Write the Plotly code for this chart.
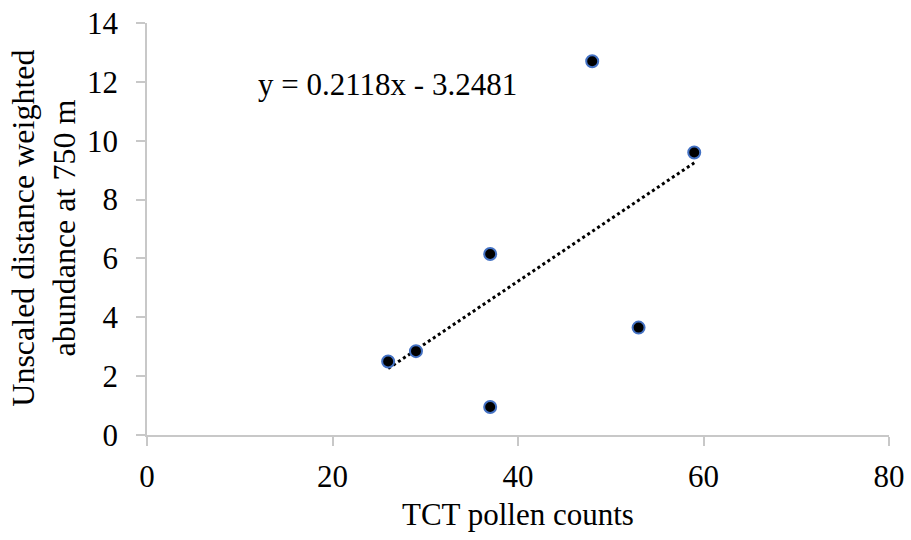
import plotly.graph_objects as go
import numpy as np

tct_counts = [26, 29, 37, 37, 48, 53, 59]
abundance = [2.5, 2.85, 6.15, 0.95, 12.7, 3.65, 9.6]
slope = 0.2118
intercept = -3.2481
eq_label = "y = 0.2118x - 3.2481"
x_ticks = [0, 20, 40, 60, 80]
y_ticks = [0, 2, 4, 6, 8, 10, 12, 14]

font = "Liberation Serif, Times New Roman, serif"
fs = 31

tx = np.array([min(tct_counts), max(tct_counts)], dtype=float)
ty = slope * tx + intercept

fig = go.Figure()
fig.add_trace(go.Scatter(x=tx, y=ty, mode="lines",
                         line=dict(color="black", width=3, dash="dot"),
                         hoverinfo="skip", showlegend=False))
fig.add_trace(go.Scatter(x=tct_counts, y=abundance, mode="markers",
                         marker=dict(color="black", size=12,
                                     line=dict(color="#4472C4", width=2)),
                         showlegend=False))

axis_common = dict(showgrid=False, zeroline=False, showline=True,
                   linecolor="#c8c8c8", linewidth=1.5, ticks="outside",
                   tickcolor="#c8c8c8", ticklen=9, tickwidth=1.5,
                   automargin=False,
                   tickfont=dict(family=font, size=fs, color="black"))

fig.update_xaxes(range=[0, 80], tickvals=x_ticks, ticklabelstandoff=4, **axis_common)
fig.update_yaxes(range=[0, 14], tickvals=y_ticks, ticklabelstandoff=12, **axis_common)

fig.add_annotation(xref="paper", yref="paper", x=-0.14, y=0.501,
                   text="Unscaled distance weighted<br>abundance at 750 m",
                   textangle=-90, showarrow=False, xanchor="center", yanchor="middle",
                   font=dict(family=font, size=32, color="black"))
fig.add_annotation(xref="paper", yref="paper", x=0.5, y=-0.194,
                   text="TCT pollen counts", showarrow=False,
                   xanchor="center", yanchor="middle",
                   font=dict(family=font, size=fs, color="black"))
fig.add_annotation(x=11.8, y=11.9, xref="x", yref="y", text=eq_label,
                   showarrow=False, xanchor="left", yanchor="middle",
                   font=dict(family=font, size=fs, color="black"))

fig.update_layout(width=911, height=540,
                  margin=dict(l=147, r=22, t=23, b=105, autoexpand=False),
                  plot_bgcolor="white", paper_bgcolor="white")

fig.write_html("out.html")
